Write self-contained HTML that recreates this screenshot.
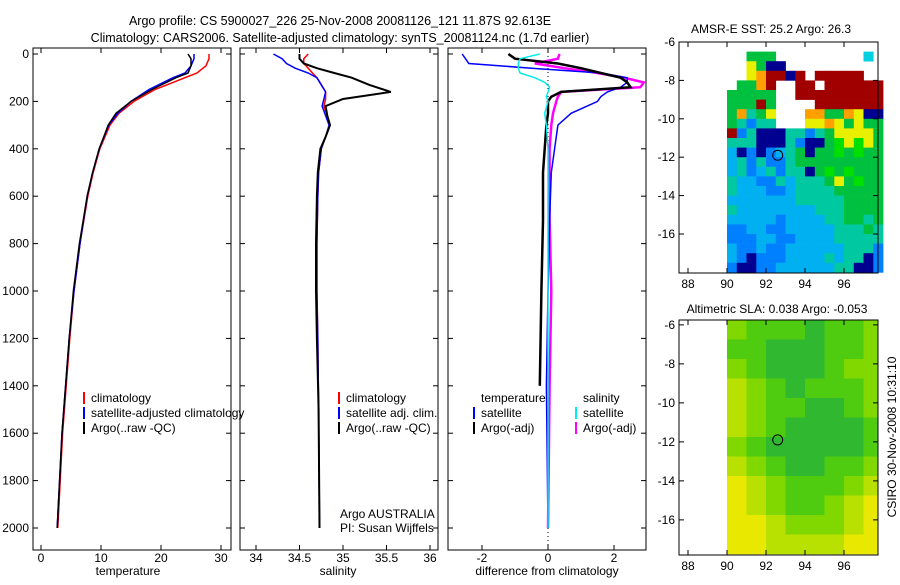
<!DOCTYPE html>
<html><head><meta charset="utf-8"><style>
body{margin:0;background:#fff;}
svg text{font-family:"Liberation Sans",sans-serif;font-size:12px;fill:#000;}
</style></head><body>
<svg id="fig" width="900" height="580" xmlns="http://www.w3.org/2000/svg">
<text x="340" y="25" text-anchor="middle" style="font-size:12.5px">Argo profile: CS 5900027_226 25-Nov-2008 20081126_121 11.87S 92.613E</text>
<text x="340" y="42" text-anchor="middle" style="font-size:12.5px">Climatology: CARS2006. Satellite-adjusted climatology: synTS_20081124.nc (1.7d earlier)</text>
<text x="128" y="575" text-anchor="middle">temperature</text>
<text x="338" y="575" text-anchor="middle">salinity</text>
<text x="547" y="575" text-anchor="middle">difference from climatology</text>
<text transform="translate(896,437) rotate(-90)" text-anchor="middle">CSIRO 30-Nov-2008 10:31:10</text>
<text x="771" y="33" text-anchor="middle">AMSR-E SST: 25.2 Argo: 26.3</text>
<text x="777" y="313" text-anchor="middle">Altimetric SLA: 0.038 Argo: -0.053</text>
<g id="g"></g>
</svg>
<script>
// ---- data ----
const depthTicks=[0,200,400,600,800,1000,1200,1400,1600,1800,2000];
const tempTicks=[0,10,20,30];
const salTicks=[34,34.5,35,35.5,36];
const salTickLabels=["34","34.5","35","35.5","36"];
const diffTicks=[-2,0,2];
const tDepth=[0,20,50,80,100,150,200,250,300,400,500,600,800,1000,1200,1400,1600,1800,2000];
const tClim=[28,28,27.5,26,24,19,15.5,13,11.5,9.8,8.7,7.8,6.5,5.5,4.8,4.2,3.6,3.2,2.8];
const tSat=[25.5,25.5,25,24,22,18,15,12.8,11.3,9.7,8.6,7.7,6.5,5.5,4.7,4.1,3.5,3.1,2.7];
const tArgo=[24.5,25,25,24.5,22.5,18.5,15,12.5,11.2,9.7,8.6,7.7,6.4,5.4,4.7,4.1,3.5,3.1,2.7];
const sDepth=[0,20,40,60,80,100,130,160,190,220,260,300,350,400,500,600,800,1000,1200,1500,2000];
const sClim=[34.6,34.55,34.55,34.6,34.65,34.7,34.75,34.8,34.8,34.78,34.82,34.85,34.8,34.75,34.72,34.71,34.7,34.7,34.71,34.72,34.73];
const sSat=[34.2,34.3,34.35,34.45,34.6,34.7,34.75,34.8,34.78,34.76,34.8,34.84,34.8,34.75,34.72,34.71,34.7,34.7,34.71,34.72,34.73];
const sArgo=[34.5,34.5,34.55,34.7,34.9,35.1,35.3,35.55,35.0,34.8,34.82,34.85,34.8,34.74,34.71,34.7,34.69,34.69,34.7,34.72,34.73];
const dDepth=[0,20,40,60,80,100,120,140,160,180,200,250,300,400,500,700,1000,1400,2000];
const dSatT=[-2.6,-2.5,-2.4,-0.5,1.6,2.4,2.4,2.2,1.8,1.6,1.5,0.7,0.3,0.2,0.1,0.05,0,-0.05,0];
const dArgoT=[-1.2,-1.0,0.3,1.0,1.6,2.2,2.4,2.5,0.4,0.1,0,0,-0.05,-0.1,-0.15,-0.15,-0.2,-0.25,null];
const dSatS=[-0.25,-0.85,-0.9,-0.9,-0.85,-0.4,-0.1,0.05,0,-0.05,0,-0.1,-0.05,0,0,0,0,0,0];
const dArgoS=[0.35,0.3,-0.4,0.5,1.5,2.3,2.9,2.8,0.4,0.3,0.25,0.15,0.1,0.05,0.05,0.05,0.1,0.05,0];
const sstRows=["WWGGGWWWWWWWWWCW","WWYGNNWWWWWWWWWW","WWYORRNRWRRRRRWW","WGGORWWRRWRRRRRR","GGGGGWWRRRRRRRRR","GGGRGWWWWRRRRRRR","GOcGYWWWOOGGOYNN","GcBccWWWYYOYGYGG","RBcNNNccBcGYYYYG","cccNNNcBNNGgYgYG","bNBNBbcGNGGgGgGG","bcBcBBcGGGGGGGGG","bcBbcBccNGgGgGGG","cbbBBcbcccGYGgGG","cbbbBBbccccGGGGG","bbbbbbbcccccGGGG","cbbbbbbbbcccGGGG","bbbbbBbbbbccGGcG","BBbbBBbbbbbcccGc","BBBbbBBbbbbccccc","bBBbBBbbbbbbcccB","bBNBBBbbbbcbccNB","BNNBBbbbbbbccNNB"];
const slaRows=["23334332","33444332","23444322","12343332","12334432","12344443","23444443","12344332","01233321","01233210","00122210","00111100"];
const lonTicks=[88,90,92,94,96];
const sstLatTicks=[-6,-8,-10,-12,-14,-16];
const slaLatTicks=[-6,-8,-10,-12,-14,-16];
const floatLon=92.6, floatLat=-11.9;
// ---- drawing ----
const NS="http://www.w3.org/2000/svg";const G=document.getElementById('g');
function mk(t,a,p){const e=document.createElementNS(NS,t);for(const k in a)e.setAttribute(k,a[k]);(p||G).appendChild(e);return e;}
const yD=d=>54+d*0.237;
const panels=[
 {x0:33,x1:231,f:v=>41+v*6,ticks:tempTicks,labs:tempTicks.map(String),name:'temperature'},
 {x0:240,x1:438,f:v=>256+(v-34)*87,ticks:salTicks,labs:salTickLabels,name:'salinity'},
 {x0:448,x1:646,f:v=>548+v*33,ticks:diffTicks,labs:diffTicks.map(String),name:'difference'}];
panels.forEach((p,i)=>{
 const ax=mk('g',{});
 
 
 mk('rect',{x:p.x0,y:48,width:p.x1-p.x0,height:502,fill:'none',stroke:'#000'},ax);
 depthTicks.forEach(d=>{const y=yD(d);mk('line',{x1:p.x0,x2:p.x0+5,y1:y,y2:y,stroke:'#000'},ax);mk('line',{x1:p.x1,x2:p.x1-5,y1:y,y2:y,stroke:'#000'},ax);
  if(i==0){const t=mk('text',{x:p.x0-4,y:y+4,'text-anchor':'end'},ax);t.textContent=d;}});
 p.ticks.forEach((v,j)=>{const x=p.f(v);mk('line',{x1:x,x2:x,y1:550,y2:545,stroke:'#000'},ax);mk('line',{x1:x,x2:x,y1:48,y2:53,stroke:'#000'},ax);
  const t=mk('text',{x:x,y:562,'text-anchor':'middle'},ax);t.textContent=p.labs[j];});
});
function line(px,ds,vs,col,w,name){let s='';ds.forEach((d,k)=>{if(vs[k]==null)return;s+=(s?'L':'M')+px.f(vs[k]).toFixed(1)+','+yD(d).toFixed(1);});
 const e=mk('path',{d:s,fill:'none',stroke:col,'stroke-width':w});
 
 }
const [P1,P2,P3]=panels;
mk('line',{x1:548,x2:548,y1:48,y2:550,stroke:'#000','stroke-dasharray':'1,3'});
line(P1,tDepth,tClim,'#f00',1.5,'temp-climatology-line');
line(P1,tDepth,tSat,'#00f',1.5,'temp-satellite-line');
line(P1,tDepth,tArgo,'#000',1.5,'temp-argo-line');
line(P2,sDepth,sClim,'#f00',1.5,'sal-climatology-line');
line(P2,sDepth,sSat,'#00f',1.5,'sal-satellite-line');
line(P2,sDepth,sArgo,'#000',2,'sal-argo-line');
line(P3,dDepth,dArgoS,'#f0f',2.5,'diff-argo-salinity-line');
line(P3,dDepth,dSatT,'#00f',1.5,'diff-satellite-temp-line');
line(P3,dDepth,dArgoT,'#000',2.5,'diff-argo-temp-line');
line(P3,dDepth,dSatS,'#0ee',1.5,'diff-satellite-salinity-line');
function leg(x,y,col,txt,name){if(col)mk('line',{x1:x,x2:x,y1:y-10,y2:y+2,stroke:col,'stroke-width':2});
 const t=mk('text',{x:x+7,y:y});t.textContent=txt;
 
 }
leg(84,402,'#f00','climatology','legend-climatology');
leg(84,417,'#00f','satellite-adjusted climatology','legend-satellite');
leg(84,432,'#000','Argo(..raw -QC)','legend-argo');
leg(339,402,'#f00','climatology','legend2-climatology');
leg(339,417,'#00f','satellite adj. clim.','legend2-satellite');
leg(339,432,'#000','Argo(..raw -QC)','legend2-argo');
leg(474,402,null,'temperature','legend3-temperature-heading');
leg(576,402,null,'salinity','legend3-salinity-heading');
leg(474,417,'#00f','satellite','legend3-sat-temp');
leg(474,432,'#000','Argo(-adj)','legend3-argo-temp');
leg(576,417,'#0ee','satellite','legend3-sat-sal');
leg(576,432,'#f0f','Argo(-adj)','legend3-argo-sal');
leg(333,518,null,'Argo AUSTRALIA','argo-australia-label');
leg(333,532,null,'PI: Susan Wijffels','pi-label');
// maps
const cmap={W:'#fff',R:'#a00000',O:'#ffa000',Y:'#e8f000',G:'#00c040',g:'#00e000',c:'#00c8a0',b:'#00b0f0',B:'#0080ff',N:'#000090',C:'#00d0e0'};
const slaCol=['#e8e800','#b8e000','#80d800','#50cc10','#30b830'];
function mapAxes(top,bot,latTop,pxLat,ticks,name){
 const lx=lon=>727+(lon-90)*19.5, ly=lat=>top+(latTop-lat)*pxLat;
 const g=mk('g',{});
 
 
 return {g,lx,ly,fin(){mk('rect',{x:679,y:top,width:199,height:bot-top,fill:'none',stroke:'#000'},g);
  lonTicks.forEach(l=>{const x=lx(l);mk('line',{x1:x,x2:x,y1:bot,y2:bot-5,stroke:'#000'},g);mk('line',{x1:x,x2:x,y1:top,y2:top+5,stroke:'#000'},g);const t=mk('text',{x:x,y:bot+15,'text-anchor':'middle'},g);t.textContent=l;});
  ticks.forEach(l=>{const y=ly(l);mk('line',{x1:679,x2:684,y1:y,y2:y,stroke:'#000'},g);mk('line',{x1:878,x2:873,y1:y,y2:y,stroke:'#000'},g);const t=mk('text',{x:675,y:y+4,'text-anchor':'end'},g);t.textContent=l;});
  mk('circle',{cx:lx(floatLon),cy:ly(floatLat),r:5,fill:'none',stroke:'#000'},g);}};
}
const m1=mapAxes(42,273,-6,19.2,sstLatTicks,'sst-map');
sstRows.forEach((row,r)=>{[...row].forEach((ch,c)=>{if(ch==='W')return;const x=m1.lx(90+c*0.5),y=m1.ly(-6.5-r*0.5);
 const e=mk('rect',{x:x.toFixed(1),y:y.toFixed(1),width:10.1,height:9.9,fill:cmap[ch]},m1.g);
 
 });});
m1.fin();
const m2=mapAxes(320,555,-5.75,19.5,slaLatTicks,'sla-map');
slaRows.forEach((row,r)=>{[...row].forEach((ch,c)=>{const x=m2.lx(90+c),y=m2.ly(-5.75-r);
 const w=Math.min(19.8,878-x),h=Math.min(19.8,555-y);if(w<=0||h<=0)return;
 const e=mk('rect',{x:x.toFixed(1),y:y.toFixed(1),width:w.toFixed(1),height:h.toFixed(1),fill:slaCol[+ch]},m2.g);
 
 });});
m2.fin();
</script>
</body></html>
